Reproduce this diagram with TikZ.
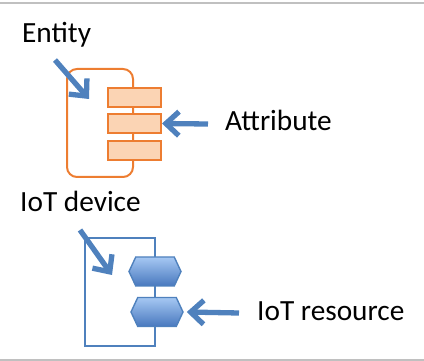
\documentclass[tikz,border=0pt]{standalone}
\usepackage{fontspec}
\setmainfont{Carlito}
\usetikzlibrary{arrows.meta,shapes.symbols}
\definecolor{frameorange}{HTML}{ED7D31}
\definecolor{attrfill}{HTML}{FBD4B4}
\definecolor{arrowblue}{HTML}{4F81BD}
\definecolor{hextop}{HTML}{A6C8F3}
\definecolor{hexbot}{HTML}{4878BE}
\definecolor{rulegray}{HTML}{C0C0C0}
\begin{document}
\begin{tikzpicture}[x=1pt,y=-1pt,
  caption/.style={font=\fontsize{29.3}{34}\selectfont, inner sep=0pt, anchor=base west},
  entitybox/.style={draw=frameorange, line width=2pt, rounded corners=10pt,
    minimum width=66pt, minimum height=108pt, inner sep=0pt},
  attrbox/.style={draw=frameorange, line width=2pt, fill=attrfill,
    minimum width=53pt, minimum height=19pt, inner sep=0pt},
  devicebox/.style={draw=arrowblue, line width=1.6pt,
    minimum width=70pt, minimum height=108pt, inner sep=0pt},
  reshex/.style={signal, signal to=west and east, signal pointer angle=130,
    draw=arrowblue, line width=1.4pt, top color=hextop, bottom color=hexbot,
    minimum width=52pt, minimum height=29pt, inner sep=0pt},
  pointer/.style={arrowblue, line width=5.3pt,
    -{Straight Barb[length=13pt,width=24pt]}},
  rule/.style={rulegray, line width=2pt}
]
\useasboundingbox (0,0) rectangle (424,361);

% horizontal rules above and below
\coordinate (ruleTL) at (0,3);
\coordinate (ruleTR) at (424,3);
\coordinate (ruleBL) at (0,359.5);
\coordinate (ruleBR) at (424,359.5);
\draw[rule] (ruleTL) -- (ruleTR);
\draw[rule] (ruleBL) -- (ruleBR);

% entity with its attributes
\node[entitybox] (entity) at (100,123) {};
\node[attrbox] (attr1) at (134.5,97.5) {};
\node[attrbox] (attr2) at (134.5,123.5) {};
\node[attrbox] (attr3) at (134.5,150.5) {};

\node[caption] (entityLabel) at (22,43) {Entity};
\node[caption] (attrLabel) at (225,131) {Attribute};

\coordinate (entTail) at (55,60);
\coordinate (entTip) at (89,99);
\draw[pointer] (entTail) -- (entTip);
\coordinate (attrTail) at (208,124);
\draw[pointer] (attrTail) -- (attr2.east);

% IoT device with its resources
\node[devicebox] (device) at (120,292) {};
\node[reshex] (res1) at (155,271.5) {};
\node[reshex] (res2) at (157,312) {};

\node[caption] (deviceLabel) at (20,212) {IoT device};
\node[caption] (resLabel) at (257,320) {IoT resource};

\coordinate (devTail) at (80,230);
\coordinate (devTip) at (112,275);
\draw[pointer] (devTail) -- (devTip);
\coordinate (resTail) at (239,313);
\draw[pointer] (resTail) -- ([xshift=3pt]res2.east);
\end{tikzpicture}
\end{document}
